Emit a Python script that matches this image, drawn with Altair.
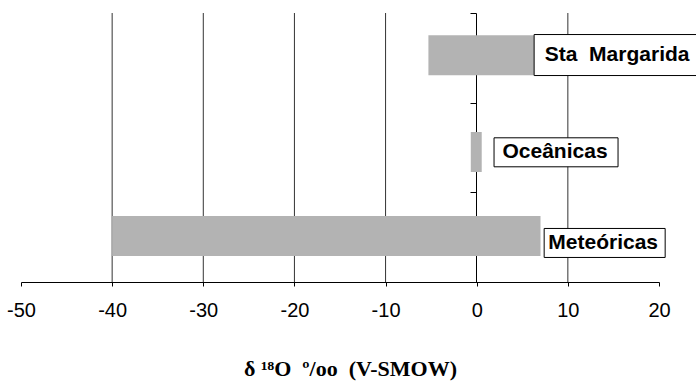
import altair as alt
import pandas as pd

# ---- data ----
categories = ["Sta Margarida", "Oceânicas", "Meteóricas"]
labels = ["Sta\u00a0 Margarida", "Oceânicas", "Meteóricas"]
low = [-5.3, -0.65, -40.0]
high = [6.3, 0.55, 7.0]
label_at = [6.3, 1.9, 7.4]          # data value where each label box starts
x_ticks = [-50, -40, -30, -20, -10, 0, 10, 20]
grid_at = [-40, -30, -20, -10, 10]

df = pd.DataFrame({"cat": categories, "label": labels, "low": low,
                   "high": high, "lab": label_at})
grid_df = pd.DataFrame({"g": grid_at})

# ---- styles ----
bar_dy = [-2.5, 4.5, -1.2]
box_dy = [-2.8, 4.8, 5.8]
box_w = [168, 124, 121]
box_h = [41, 29, 29]
text_dx = [83, 61, 59]
BAR_GRAY = "#b3b3b3"
SANS = "Liberation Sans"
SERIF = "Liberation Serif"

xscale = alt.Scale(domain=[-50, 20], nice=False, zero=False)
yscale = alt.Scale(domain=categories, paddingInner=0, paddingOuter=0)

x_axis = alt.Axis(values=x_ticks, grid=False, domainColor="#000", domainWidth=1,
                  tickColor="#000", tickSize=4, tickWidth=1,
                  labelFont=SANS, labelFontSize=20, labelColor="#000",
                  labelPadding=14, labelFlush=False,
                  labelExpr="'' + datum.value",
                  title="δ\u00a0¹⁸O\u00a0\u00a0º/oo\u00a0\u00a0(V-SMOW)", titleFont=SERIF,
                  titleFontSize=22, titleFontWeight="bold", titleColor="#000",
                  titleX=329, titleY=93, titleAlign="center",
                  titleBaseline="alphabetic")
y_axis = alt.Axis(orient="left", offset=-455, labels=False, title=None,
                  grid=False, domainColor="#000", domainWidth=1,
                  tickColor="#000", tickSize=6, tickWidth=1,
                  tickBand="extent", zindex=0)


def X(field):
    return alt.X(field, type="quantitative", scale=xscale, axis=x_axis)


def Y():
    return alt.Y("cat:N", scale=yscale, axis=y_axis, sort=categories)


grid = alt.Chart(grid_df).mark_rule(color="#333", strokeWidth=1).encode(
    x=alt.X("g:Q", scale=xscale, axis=x_axis)
)

layers = [grid]
for i, c in enumerate(categories):
    sub = alt.Chart(df).transform_filter(alt.datum.cat == c)
    bar = sub.mark_bar(height=40, color=BAR_GRAY, yOffset=bar_dy[i]).encode(
        x=X("low"), x2="high", y=Y()
    )
    box = sub.mark_bar(height=box_h[i], fill="white", stroke="#000",
                       strokeWidth=1, yOffset=box_dy[i],
                       x2Offset=box_w[i]).encode(
        x=X("lab"), x2="lab", y=Y()
    )
    txt = sub.mark_text(font=SANS, fontSize=21, fontWeight="bold", color="#000",
                        align="center", baseline="middle",
                        dx=text_dx[i], dy=box_dy[i]).encode(
        x=X("lab"), y=Y(), text="label:N"
    )
    layers += [bar, box, txt]

chart = alt.layer(*layers).properties(
    width=638, height=269,
    padding={"left": 21, "top": 13, "right": 37, "bottom": 102},
    autosize=alt.AutoSizeParams(type="none"),
    background="white",
).configure_view(stroke=None)

chart.save("out.html", embed_options={"renderer": "svg", "actions": False})
